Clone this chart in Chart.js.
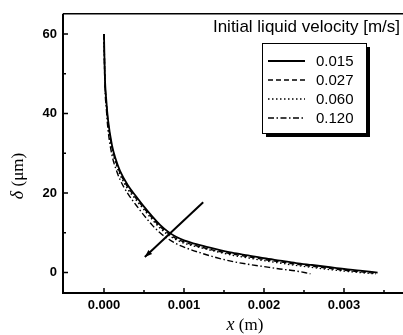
<!DOCTYPE html>
<html>
<head>
<meta charset="utf-8">
<script src="https://cdn.jsdelivr.net/npm/chart.js@4"></script>
<style>
html,body{margin:0;padding:0;background:#fff;}
#wrap{width:403px;height:335px;position:relative;}
</style>
</head>
<body>
<div id="wrap"><canvas id="c" width="403" height="335"></canvas></div>
<script>
// ---- data ----
const seriesLabels = ['0.015', '0.027', '0.060', '0.120'];
const xSolid   = [0, 0.00001, 0.00003, 0.00005, 0.0001, 0.00015, 0.0002, 0.0003, 0.0004, 0.0005, 0.0006, 0.0007, 0.0008, 0.0009, 0.001, 0.0012, 0.0014, 0.0016, 0.0018, 0.002, 0.0022, 0.0024, 0.0026, 0.0028, 0.003, 0.0032, 0.00342];
const ySolid   = [60, 50, 43, 38.5, 32.0, 28.3, 25.6, 21.9, 19.2, 16.6, 14.2, 12.0, 10.3, 9.0, 8.1, 6.9, 5.9, 5.0, 4.3, 3.6, 3.0, 2.4, 1.9, 1.4, 0.9, 0.5, 0.0];
const xDash    = [0, 0.00001, 0.00003, 0.00005, 0.0001, 0.00015, 0.0002, 0.0003, 0.0004, 0.0005, 0.0006, 0.0007, 0.0008, 0.0009, 0.001, 0.0012, 0.0014, 0.0016, 0.0018, 0.002, 0.0022, 0.0024, 0.0026, 0.0028, 0.003, 0.0032, 0.0034];
const yDash    = [60, 49.6, 42.6, 38.0, 31.5, 27.8, 25.1, 21.4, 18.7, 16.2, 13.8, 11.6, 9.9, 8.6, 7.7, 6.5, 5.5, 4.7, 4.0, 3.3, 2.7, 2.1, 1.6, 1.1, 0.6, 0.2, -0.2];
const xDot     = [0, 0.00001, 0.00003, 0.00005, 0.0001, 0.00015, 0.0002, 0.0003, 0.0004, 0.0005, 0.0006, 0.0007, 0.0008, 0.0009, 0.001, 0.0012, 0.0014, 0.0016, 0.0018, 0.002, 0.0022, 0.0024, 0.0026, 0.0028, 0.003, 0.0032, 0.0034];
const yDot     = [60, 49.2, 42.2, 37.5, 31.0, 27.3, 24.6, 20.9, 18.3, 15.8, 13.4, 11.2, 9.5, 8.3, 7.4, 6.3, 5.3, 4.4, 3.7, 3.0, 2.4, 1.8, 1.3, 0.8, 0.4, 0.0, -0.3];
const xDashDot = [0, 0.00001, 0.00003, 0.00005, 0.0001, 0.00015, 0.0002, 0.0003, 0.0004, 0.0005, 0.0006, 0.0007, 0.0008, 0.0009, 0.001, 0.0012, 0.0014, 0.0016, 0.0018, 0.002, 0.0022, 0.0024, 0.00258];
const yDashDot = [60, 48, 41, 36, 29.5, 26.0, 23.4, 19.8, 17.0, 14.4, 12.0, 10.0, 8.5, 7.3, 6.4, 5.0, 3.8, 2.8, 2.1, 1.5, 0.9, 0.4, -0.3];
const arrowX = [0.00124, 0.00051];
const arrowY = [17.7, 3.9];
const xMajorTicks = [0, 0.001, 0.002, 0.003];
const xMinorTicks = [0.0005, 0.0015, 0.0025, 0.0035];
const yMajorTicks = [0, 20, 40, 60];
const yMinorTicks = [10, 30, 50];
const legendTitle = 'Initial liquid velocity [m/s]';

function pts(xs, ys){ return xs.map((x,i)=>({x:x, y:ys[i]})); }
const dashes = [[], [5,3], [1.5,2.5], [6,2.5,1.5,2.5]];
const widths = [1.8, 1.4, 1.4, 1.4];
const seriesData = [pts(xSolid,ySolid), pts(xDash,yDash), pts(xDot,yDot), pts(xDashDot,yDashDot)];

const datasets = seriesData.map((d,i)=>({
  label: seriesLabels[i], data: d, showLine: true, borderColor: '#000', backgroundColor: '#000',
  borderWidth: widths[i], borderDash: dashes[i], pointRadius: 0, tension: 0.35, cubicInterpolationMode: 'monotone', fill: false
}));
datasets.push({label:'arrow', data: pts(arrowX, arrowY), showLine: true, borderColor:'#000', borderWidth: 2, pointRadius: 0, tension: 0});

const framePlugin = {
  id: 'frame',
  afterDraw(chart){
    const ctx = chart.ctx, a = chart.chartArea;
    const xs = chart.scales.x, ys = chart.scales.y;
    ctx.save();
    ctx.strokeStyle = '#000';
    // axes
    ctx.lineWidth = 2;
    ctx.beginPath();
    ctx.moveTo(a.left, a.top); ctx.lineTo(a.left, a.bottom); ctx.lineTo(403, a.bottom);
    ctx.stroke();
    ctx.lineWidth = 1.5;
    ctx.beginPath(); ctx.moveTo(a.left, a.top); ctx.lineTo(403, a.top); ctx.stroke();
    // ticks
    ctx.lineWidth = 1.5;
    ctx.beginPath();
    yMajorTicks.forEach(v=>{ const p = ys.getPixelForValue(v); ctx.moveTo(a.left, p); ctx.lineTo(a.left+5, p); });
    yMinorTicks.forEach(v=>{ const p = ys.getPixelForValue(v); ctx.moveTo(a.left, p); ctx.lineTo(a.left+3, p); });
    xMajorTicks.forEach(v=>{ const p = xs.getPixelForValue(v); ctx.moveTo(p, a.bottom); ctx.lineTo(p, a.bottom-5); });
    xMinorTicks.forEach(v=>{ const p = xs.getPixelForValue(v); ctx.moveTo(p, a.bottom); ctx.lineTo(p, a.bottom-3); });
    ctx.stroke();
    // arrow head
    const x1 = xs.getPixelForValue(arrowX[0]), y1 = ys.getPixelForValue(arrowY[0]);
    const x2 = xs.getPixelForValue(arrowX[1]), y2 = ys.getPixelForValue(arrowY[1]);
    const ang = Math.atan2(y2-y1, x2-x1), L = 8, w = 0.35;
    ctx.fillStyle = '#000';
    ctx.beginPath();
    ctx.moveTo(x2, y2);
    ctx.lineTo(x2 - L*Math.cos(ang-w), y2 - L*Math.sin(ang-w));
    ctx.lineTo(x2 - L*Math.cos(ang+w), y2 - L*Math.sin(ang+w));
    ctx.closePath(); ctx.fill();
    // axis titles
    ctx.fillStyle = '#000';
    ctx.textBaseline = 'alphabetic';
    const t1 = 'x', t2 = ' (m)';
    ctx.font = 'italic 18px "Liberation Serif"'; const w1 = ctx.measureText(t1).width;
    ctx.font = '17px "Liberation Serif"'; const w2 = ctx.measureText(t2).width;
    let sx = 245 - (w1+w2)/2;
    ctx.font = 'italic 18px "Liberation Serif"'; ctx.fillText(t1, sx, 330);
    ctx.font = '17px "Liberation Serif"'; ctx.fillText(t2, sx+w1, 330);
    ctx.save();
    ctx.translate(23, 176);
    ctx.rotate(-Math.PI/2);
    ctx.font = 'italic 18px "Liberation Serif"'; const d1 = ctx.measureText('δ').width;
    ctx.font = '17px "Liberation Serif"'; const d2 = ctx.measureText(' (μm)').width;
    let sy = -(d1+d2)/2;
    ctx.font = 'italic 18px "Liberation Serif"'; ctx.fillText('δ', sy, 0);
    ctx.font = '17px "Liberation Serif"'; ctx.fillText(' (μm)', sy+d1, 0);
    ctx.restore();
    // legend
    ctx.font = '17px "Liberation Sans"';
    ctx.textBaseline = 'middle';
    ctx.textAlign = 'right';
    ctx.fillText(legendTitle, 400, 27);
    ctx.textAlign = 'left';
    const bx = 262, by = 43, bw = 104, bh = 90;
    ctx.fillRect(bx+4, by+4, bw, bh);
    ctx.fillStyle = '#fff'; ctx.fillRect(bx, by, bw, bh);
    ctx.lineWidth = 1; ctx.strokeRect(bx+0.5, by+0.5, bw, bh);
    ctx.fillStyle = '#000';
    ctx.font = '15px "Liberation Sans"';
    seriesLabels.forEach((lab,i)=>{
      const ry = 61 + i*19;
      ctx.setLineDash(dashes[i]); ctx.lineWidth = widths[i];
      ctx.beginPath(); ctx.moveTo(268, ry); ctx.lineTo(305, ry); ctx.stroke();
      ctx.setLineDash([]);
      ctx.fillText(lab, 316, ry+1);
    });
    ctx.restore();
  }
};

new Chart(document.getElementById('c'), {
  type: 'scatter',
  data: { datasets },
  plugins: [framePlugin],
  options: {
    responsive: false, animation: false,
    layout: { padding: { left: 0, right: 0, top: 6, bottom: 0 } },
    plugins: { legend: { display: false }, tooltip: { enabled: false } },
    scales: {
      x: {
        type: 'linear', min: -0.0005125, max: 0.0037375,
        grid: { display: false, drawTicks: false }, border: { display: false },
        afterBuildTicks: s => { s.ticks = xMajorTicks.map(v=>({value:v})); },
        afterFit: s => { s.height = 42; },
        ticks: { padding: 5, color: '#000', maxRotation: 0, font: { family: 'Liberation Sans', size: 13, weight: 'bold' }, callback: v => Number(v).toFixed(3) }
      },
      y: {
        type: 'linear', min: -5.14, max: 65.1,
        grid: { display: false, drawTicks: false }, border: { display: false },
        afterBuildTicks: s => { s.ticks = yMajorTicks.map(v=>({value:v})); },
        afterFit: s => { s.width = 63; },
        ticks: { padding: 6, color: '#000', font: { family: 'Liberation Sans', size: 13, weight: 'bold' } }
      }
    }
  }
});
</script>
</body>
</html>
